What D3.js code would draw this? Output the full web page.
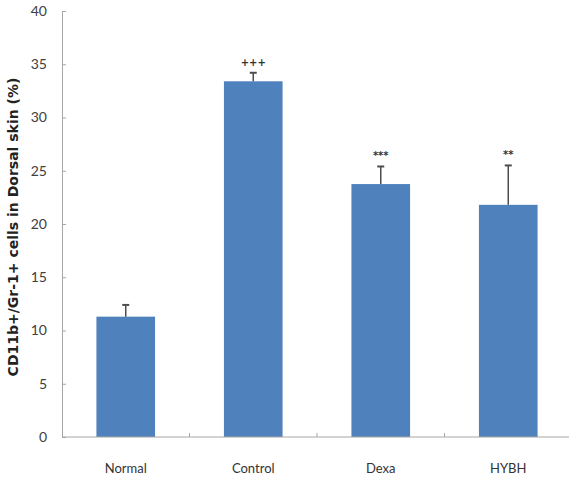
<!DOCTYPE html>
<html><head><meta charset="utf-8">
<script src="https://cdn.jsdelivr.net/npm/d3@7"></script>
<style>body{margin:0;background:#fff}svg{display:block}</style>
</head><body>
<script>
const categories = ["Normal", "Control", "Dexa", "HYBH"];
const values = [11.3, 33.4, 23.75, 21.8];
const errors = [1.1, 0.8, 1.65, 3.7];
const marks = ["", "+++", "***", "**"];
const yTicks = [0, 5, 10, 15, 20, 25, 30, 35, 40];
const yTitle = "CD11b+/Gr-1+ cells in Dorsal skin (%)";

const W = 569, H = 481;
const svg = d3.select("body").append("svg").attr("width", W).attr("height", H);
const x0 = 62, x1 = 572, yTop = 11, yBot = 437;
const x = d3.scaleBand().domain(categories).range([x0, x1]).paddingInner(0.54).paddingOuter(0.27);
const y = d3.scaleLinear().domain([0, 40]).range([yBot, yTop]);
const font = "Lato, 'Open Sans', sans-serif";
const axisCol = "#a6a6a6";

// bars
svg.selectAll("rect.bar").data(categories).join("rect")
  .attr("x", d => x(d)).attr("width", x.bandwidth())
  .attr("y", (d,i) => y(values[i])).attr("height", (d,i) => yBot - y(values[i]))
  .attr("fill", "#4f81bd");

// error bars
const eb = svg.append("g").attr("stroke", "#4d4d4d").attr("stroke-width", 1.5);
categories.forEach((c,i) => {
  const cx = x(c) + x.bandwidth()/2;
  eb.append("line").attr("x1", cx).attr("x2", cx).attr("y1", y(values[i])).attr("y2", y(values[i]+errors[i]));
  eb.append("line").attr("x1", cx-3.5).attr("x2", cx+3.5).attr("y1", y(values[i]+errors[i])).attr("y2", y(values[i]+errors[i])).attr("stroke-width", 2);
});

// significance marks
svg.selectAll("text.mark").data(categories).join("text")
  .attr("x", d => x(d) + x.bandwidth()/2)
  .attr("y", (d,i) => y(values[i]+errors[i]) - 7)
  .attr("text-anchor", "middle").attr("font-family", "'DejaVu Sans', sans-serif").attr("font-size", 10)
  .attr("font-weight", "bold").attr("fill", "#333").text((d,i) => marks[i]);

// y axis
const ya = d3.axisLeft(y).tickValues(yTicks).tickSizeInner(-4).tickSizeOuter(0).tickPadding(15);
const yg = svg.append("g").attr("transform", `translate(${x0},0)`).call(ya);
yg.select(".domain").attr("stroke", axisCol);
yg.selectAll(".tick line").attr("stroke", axisCol);
yg.selectAll(".tick text").attr("font-family", font).attr("font-size", 14).attr("fill", "#404040");

// x axis
const xb = d3.scaleLinear().domain([0, 4]).range([x0, x1]);
const xg = svg.append("g").attr("transform", `translate(0,${yBot})`);
xg.append("line").attr("x1", x0).attr("x2", x1).attr("y1", 0).attr("y2", 0).attr("stroke", axisCol);
[1,2,3].forEach(k => xg.append("line").attr("x1", xb(k)).attr("x2", xb(k)).attr("y1", 0).attr("y2", -4).attr("stroke", axisCol));
xg.selectAll("text").data(categories).join("text")
  .attr("x", d => x(d) + x.bandwidth()/2).attr("y", 36)
  .attr("text-anchor", "middle").attr("font-family", font).attr("font-size", 13).attr("fill", "#333")
  .text(d => d);

// y title
svg.append("text").attr("transform", `translate(18,${(yTop+yBot)/2 + 3}) rotate(-90)`)
  .attr("text-anchor", "middle").attr("font-family", "'DejaVu Sans', sans-serif").attr("font-weight", "bold")
  .attr("font-size", 14).attr("fill", "#222").text(yTitle);
</script>
</body></html>
